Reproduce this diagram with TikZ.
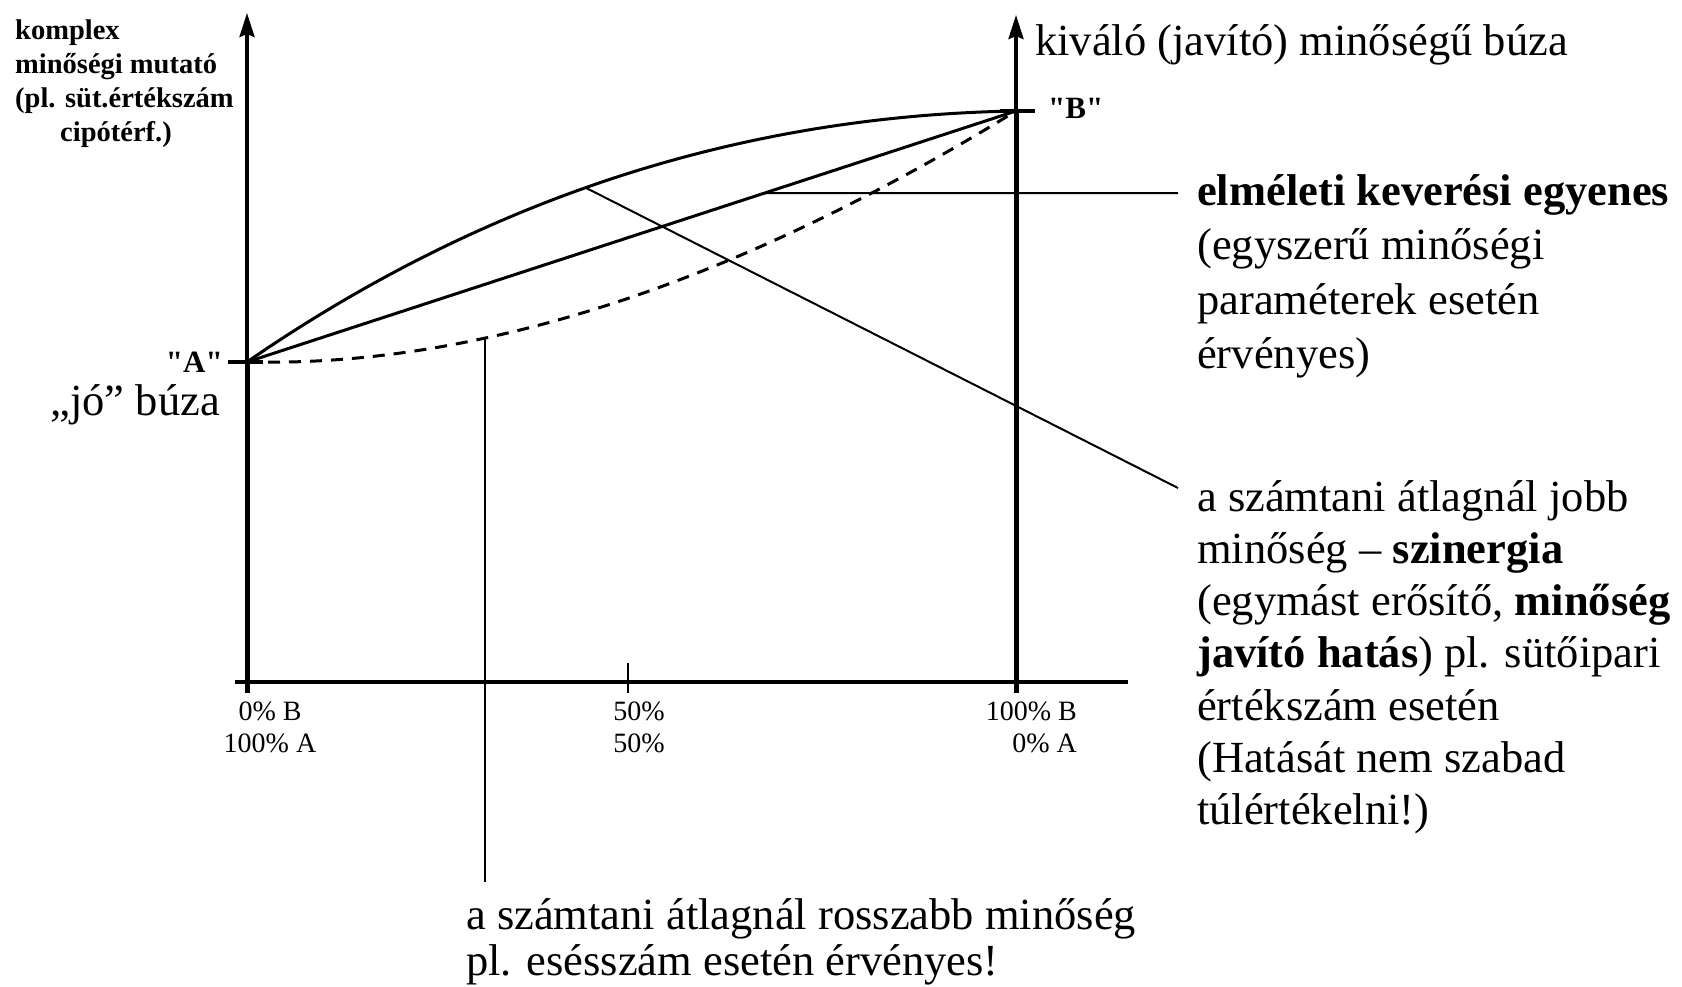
\documentclass[tikz,border=0pt]{standalone}
\usepackage{fontspec}
\setmainfont{Liberation Serif}
\newfontfamily\nolig[Ligatures=TeXOff]{Liberation Serif}
\usetikzlibrary{arrows.meta}
\begin{document}
\begin{tikzpicture}[x=1pt,y=-1pt,
  axthin/.style={line width=3.5pt},
  axthick/.style={line width=5pt},
  axarrow/.style={-{Stealth[length=24pt,width=15pt,inset=3pt]}},
  curveline/.style={line width=3pt},
  leader/.style={line width=2pt},
  maintext/.style={inner sep=0pt, font=\fontsize{44.5}{53.3}\selectfont},
  ticklabel/.style={inner sep=0pt, font=\fontsize{28}{32}\selectfont},
  pointlabel/.style={inner sep=0pt, font=\nolig\bfseries\fontsize{31}{36}\selectfont},
  ylabel/.style={inner sep=0pt, font=\bfseries\fontsize{28.5}{34}\selectfont},
]
\fill[white] (0,0) rectangle (1682,986);
\useasboundingbox (0,0) rectangle (1682,986);

% key points
\coordinate (A) at (247,362);
\coordinate (B) at (1016,111);
\coordinate (Yl) at (247,13);
\coordinate (Yr) at (1016,15);
\coordinate (Bl) at (247,693);
\coordinate (Br) at (1016,693);
\coordinate (Xs) at (235,682);
\coordinate (Xe) at (1128,682);
\coordinate (T50a) at (628,663);
\coordinate (T50b) at (628,693);
\coordinate (TAa) at (228,362);
\coordinate (TAb) at (263,362);
\coordinate (TBa) at (1000,111);
\coordinate (TBb) at (1035,111);

% axes
\draw[axthick] (Bl) -- (A);
\draw[axthin, axarrow] (A) -- (Yl);
\draw[axthick] (Br) -- (B);
\draw[axthin, axarrow] (B) -- (Yr);
\draw[axthin] (Xs) -- (Xe);
\draw[line width=2.5pt] (T50a) -- (T50b);
\draw[axthin] (TAa) -- (TAb);
\draw[axthin] (TBa) -- (TBb);

% curves
\draw[curveline] (A) .. controls (483,199.3) and (739.3,115.7) .. (B) coordinate[pos=0.46] (upP);
\draw[curveline] (A) -- (B) coordinate[pos=0.673] (midP);
\draw[curveline, dash pattern=on 12pt off 9pt] (A) .. controls (479,367.3) and (735.3,283.7) .. (B) coordinate[pos=0.33] (lowP);

% leader ends
\coordinate (e1) at (1178,193);
\coordinate (e2) at (1178,488);
\coordinate (e3) at (485,882);
\draw[leader] (midP) -- (e1);
\draw[leader] (upP) -- (e2);
\draw[leader] (lowP) -- (lowP |- e3);

% texts
\node[ylabel, anchor=base west] (ylab) at (15,39) {\begin{tabular}[t]{@{}l@{}}komplex\\minőségi mutató\\(pl. süt.értékszám\\\hspace*{45pt}cipótérf.)\end{tabular}};
\node[pointlabel, anchor=base east] (alab) at (223,372) {"A"};
\node[pointlabel, anchor=base west] (blab) at (1048,118) {"B"};
\node[maintext, anchor=base east] (good) at (220,415) {„jó” búza};
\node[maintext, anchor=base west] (excellent) at (1035,55) {kiváló (javító) minőségű búza};

\node[ticklabel, anchor=base] (t0) at (270,720) {\begin{tabular}[t]{@{}c@{}}0\% B\\100\% A\end{tabular}};
\node[ticklabel, anchor=base] (t50) at (639,720) {\begin{tabular}[t]{@{}c@{}}50\%\\50\%\end{tabular}};
\node[ticklabel, anchor=base east] (t100) at (1077,720) {\begin{tabular}[t]{@{}r@{}}100\% B\\0\% A\end{tabular}};

\node[maintext, font=\fontsize{44.5}{54.5}\selectfont, anchor=base west] (theory) at (1197,205) {\begin{tabular}[t]{@{}l@{}}\textbf{elméleti keverési egyenes}\\(egyszerű minőségi\\paraméterek esetén\\érvényes)\end{tabular}};
\node[maintext, font=\fontsize{44.5}{52.3}\selectfont, anchor=base west] (synergy) at (1197,511) {\begin{tabular}[t]{@{}l@{}}a számtani átlagnál jobb\\minőség -- \textbf{szinergia}\\(egymást erősítő, \textbf{minőség}\\\textbf{javító hatás}) pl. sütőipari\\értékszám esetén\\(Hatását nem szabad\\túlértékelni!)\end{tabular}};
\node[maintext, font=\fontsize{44.5}{46}\selectfont, anchor=base west] (worse) at (466,929) {\begin{tabular}[t]{@{}l@{}}a számtani átlagnál rosszabb minőség\\pl. esésszám esetén érvényes!\end{tabular}};
\end{tikzpicture}
\end{document}
